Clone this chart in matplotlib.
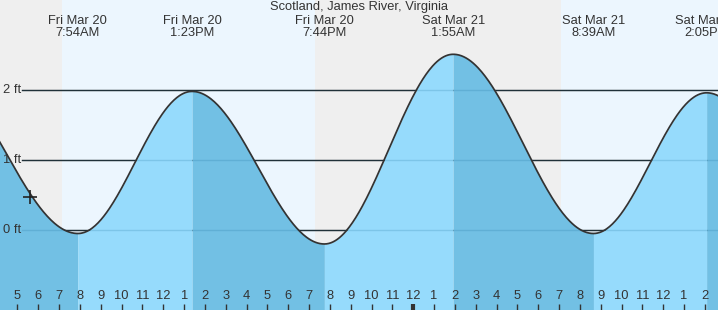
import numpy as np
import matplotlib
matplotlib.use("Agg")
from matplotlib import pyplot as plt
import matplotlib.transforms as mtransforms

plt.rcParams['font.family'] = ['Liberation Sans', 'DejaVu Sans']

# Tide extremes, hours since Fri Mar 20 00:00 (first and last lie off the chart)
tide_hours = [0.9, 7.9, 13.383, 19.733, 25.917, 32.65, 38.083, 44.3]
tide_ft = [2.3, -0.05, 1.98, -0.2, 2.51, -0.05, 1.96, -0.2]
tide_labels = [None, "Fri Mar 20\n7:54AM", "Fri Mar 20\n1:23PM", "Fri Mar 20\n7:44PM",
               "Sat Mar 21\n1:55AM", "Sat Mar 21\n8:39AM", "Sat Mar 21\n2:05PM", None]
# Sunrise / sunset, hours since Fri 00:00
sun_hours = [7.15, 19.29, 31.1]
now_hour = 5.6
hour_ticks = list(range(5, 39))
ft_ticks = [0, 1, 2]

x0, x1 = 4.16, 4.16 + 718 / 20.83
y0, y1 = -80 / 70, 230 / 70

fig = plt.figure(figsize=(7.18, 3.10), dpi=100)
ax = fig.add_axes([0, 0, 1, 1])
ax.set_xlim(x0, x1)
ax.set_ylim(y0, y1)
ax.axis('off')

# night / day background
night = '#efefef'
day = '#ecf6fe'
edges = [x0] + sun_hours + [x1]
for i in range(len(edges) - 1):
    ax.axvspan(edges[i], edges[i + 1], color=night if i % 2 == 0 else day, zorder=0, lw=0)

# gridlines
for f in ft_ticks:
    ax.plot([x0 + 22 / 20.83, x1], [f, f], color='#222222', lw=1, zorder=1)

# tide curve, half cosine between extremes
light = '#96dbfc'
dark = '#72c0e4'
all_t, all_h = [], []
for i in range(len(tide_hours) - 1):
    ta, tb = tide_hours[i], tide_hours[i + 1]
    ha, hb = tide_ft[i], tide_ft[i + 1]
    t = np.linspace(ta, tb, 120)
    h = hb + (ha - hb) * (1 + np.cos(np.pi * (t - ta) / (tb - ta))) / 2
    ax.fill_between(t, y0, h, color=light if hb > ha else dark, lw=0, zorder=2)
    all_t.append(t)
    all_h.append(h)
all_t = np.concatenate(all_t)
all_h = np.concatenate(all_h)
ax.plot(all_t, all_h, color='#333333', lw=1.25, zorder=4)

# gridlines seen through the water
for f in ft_ticks:
    ax.plot([x0 + 22 / 20.83, x1], [f, f], color='#1a6f9a', lw=1, alpha=0.2, zorder=3)

for f in ft_ticks:
    ax.text(x0 + 3 / 20.83, f, f"{f} ft", fontsize=9.3, color='#333333',
            va='center', ha='left', zorder=5)

# current time marker
ax.plot(now_hour, np.interp(now_hour, all_t, all_h) - 0.05, marker='+', ms=10, mew=1.2,
        color='#222222', zorder=5)

trans = mtransforms.blended_transform_factory(ax.transData, ax.transAxes)
for t, lab in zip(tide_hours, tide_labels):
    if lab is None:
        continue
    ax.text(t, 1 - 27 / 310, lab, transform=trans, ha='center', va='center',
            fontsize=9.3, color='#333333', linespacing=0.95, zorder=5)

for h in hour_ticks:
    lab = str((h - 1) % 12 + 1)
    ax.text(h, 14 / 310, lab, transform=trans, ha='center', va='center',
            fontsize=9.3, color='#333333', zorder=5)
    ax.plot([h, h], [0, 6 / 310], transform=trans, color='#333333',
            lw=3 if h % 24 == 0 else 1, zorder=5, solid_capstyle='butt')

fig.text(0.5, 1 - 7 / 310, "Scotland, James River, Virginia", ha='center', va='center',
         fontsize=9.3, color='#333333')

fig.savefig('out.png', dpi=100)
